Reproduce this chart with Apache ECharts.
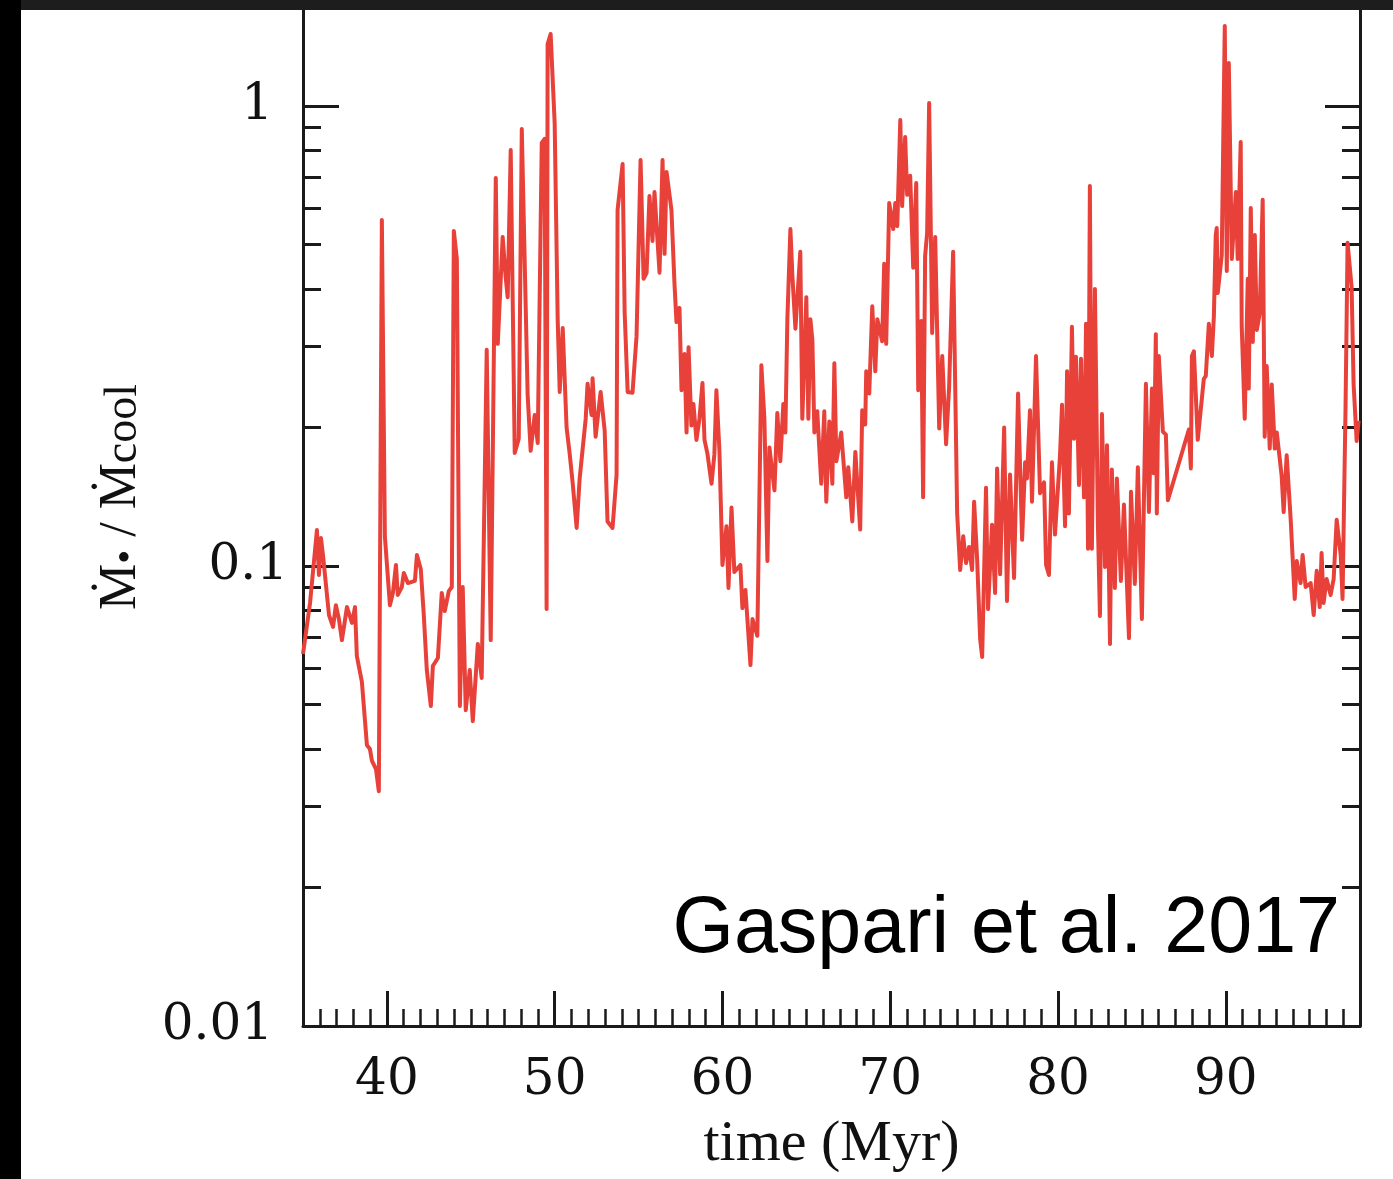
<!DOCTYPE html>
<html>
<head>
<meta charset="utf-8">
<title>Gaspari et al. 2017</title>
<script src="https://cdn.jsdelivr.net/npm/echarts@6/dist/echarts.min.js"></script>
<style>
  html, body { margin: 0; padding: 0; background: #fff; }
  #chart { width: 1393px; height: 1179px; }
</style>
</head>
<body>
<div id="chart"></div>
<script>
// time (Myr)
var times = [
  35.00,35.42,35.83,35.95,36.07,36.19,36.55,36.79,36.96,37.14,
  37.32,37.62,37.92,38.10,38.21,38.51,38.81,38.99,39.11,39.35,
  39.52,39.70,39.88,40.18,40.36,40.54,40.65,40.89,41.01,41.25,
  41.67,41.79,42.02,42.20,42.38,42.62,42.74,43.04,43.27,43.45,
  43.69,43.87,43.99,44.17,44.35,44.52,44.70,44.94,45.12,45.42,
  45.65,45.95,46.19,46.49,46.61,46.90,47.08,47.20,47.38,47.62,
  47.86,48.04,48.39,48.57,48.81,48.99,49.23,49.40,49.52,49.58,
  49.76,50.00,50.18,50.30,50.48,50.71,50.89,51.07,51.31,51.49,
  51.85,51.96,52.20,52.26,52.44,52.74,52.98,53.15,53.45,53.69,
  53.75,54.05,54.17,54.35,54.64,54.88,55.12,55.30,55.48,55.65,
  55.83,55.95,56.13,56.25,56.43,56.55,56.67,56.96,57.14,57.26,
  57.44,57.56,57.74,57.86,57.98,58.15,58.27,58.45,58.63,58.81,
  58.93,59.11,59.35,59.52,59.64,59.82,60.00,60.24,60.36,60.54,
  60.71,61.07,61.19,61.37,61.49,61.67,61.79,62.08,62.32,62.50,
  62.68,62.80,63.10,63.27,63.45,63.63,63.75,63.87,64.05,64.17,
  64.35,64.64,64.76,65.00,65.12,65.24,65.36,65.48,65.65,65.89,
  66.07,66.19,66.37,66.55,66.67,66.79,67.08,67.38,67.50,67.74,
  67.92,68.21,68.33,68.51,68.57,68.75,68.93,69.11,69.23,69.52,
  69.64,69.76,69.94,70.18,70.30,70.42,70.60,70.71,70.89,71.01,
  71.19,71.37,71.55,71.67,71.85,71.96,72.08,72.20,72.32,72.50,
  72.68,72.92,73.10,73.33,73.51,73.75,73.99,74.17,74.35,74.52,
  74.70,74.88,75.00,75.18,75.36,75.48,75.71,75.83,76.07,76.25,
  76.37,76.55,76.79,76.96,77.14,77.38,77.50,77.62,77.86,78.04,
  78.15,78.33,78.45,78.69,78.93,79.17,79.29,79.46,79.64,79.82,
  80.12,80.24,80.42,80.54,80.65,80.83,80.95,81.07,81.25,81.37,
  81.55,81.67,81.79,81.90,82.02,82.20,82.38,82.50,82.62,82.80,
  82.92,83.10,83.21,83.39,83.51,83.75,83.93,84.23,84.35,84.58,
  84.76,85.00,85.24,85.42,85.60,85.71,85.83,85.89,86.01,86.25,
  86.43,86.55,87.80,87.92,87.98,88.10,88.33,88.69,88.81,88.99,
  89.17,89.29,89.40,89.46,89.52,89.76,89.94,90.06,90.18,90.36,
  90.60,90.71,90.89,90.95,91.13,91.31,91.37,91.49,91.61,91.73,
  91.85,92.02,92.20,92.32,92.44,92.62,92.74,92.92,93.04,93.33,
  93.45,93.63,93.87,94.11,94.23,94.46,94.58,94.76,95.06,95.24,
  95.42,95.60,95.71,95.83,96.01,96.25,96.43,96.61,96.85,96.96,
  97.14,97.26,97.50,97.62,97.80,97.92
];

// Mdot_BH / Mdot_cool
var ratio = [
  0.0644,0.0831,0.1197,0.0956,0.115,0.1057,0.0782,0.0737,0.0822,0.0767,
  0.0690,0.0814,0.0752,0.0814,0.0637,0.0560,0.0408,0.0400,0.0377,0.0362,
  0.0324,0.565,0.116,0.0822,0.0874,0.1005,0.0865,0.0900,0.0966,0.0918,
  0.0928,0.1057,0.0985,0.0782,0.0594,0.0496,0.0606,0.0631,0.0874,0.0798,
  0.0882,0.0900,0.535,0.465,0.0496,0.0900,0.0486,0.0594,0.0460,0.0677,
  0.0571,0.295,0.0690,0.697,0.304,0.519,0.425,0.384,0.802,0.176,
  0.189,0.891,0.235,0.178,0.213,0.185,0.831,0.848,0.0806,1.364,
  1.434,0.918,0.343,0.239,0.329,0.200,0.176,0.152,0.121,0.155,
  0.209,0.249,0.213,0.256,0.191,0.239,0.197,0.125,0.121,0.158,
  0.594,0.748,0.357,0.239,0.238,0.316,0.763,0.421,0.434,0.637,
  0.509,0.650,0.509,0.434,0.763,0.477,0.719,0.594,0.412,0.339,
  0.364,0.241,0.289,0.195,0.299,0.202,0.225,0.188,0.209,0.250,
  0.188,0.175,0.151,0.175,0.241,0.178,0.1005,0.122,0.0896,0.134,
  0.0970,0.1005,0.0810,0.0887,0.0763,0.0609,0.0767,0.0705,0.273,0.209,
  0.1025,0.181,0.146,0.215,0.169,0.225,0.195,0.344,0.540,0.427,
  0.328,0.482,0.209,0.384,0.209,0.344,0.310,0.195,0.217,0.151,
  0.217,0.138,0.206,0.151,0.276,0.169,0.195,0.141,0.164,0.125,
  0.177,0.120,0.218,0.203,0.265,0.237,0.367,0.265,0.344,0.308,
  0.454,0.304,0.615,0.540,0.615,0.548,0.932,0.606,0.856,0.641,
  0.705,0.445,0.680,0.241,0.341,0.141,0.472,0.530,1.015,0.321,
  0.519,0.199,0.286,0.184,0.245,0.482,0.130,0.098,0.116,0.1015,
  0.110,0.098,0.138,0.1035,0.0694,0.0634,0.148,0.0806,0.123,0.0874,
  0.163,0.096,0.200,0.0839,0.158,0.0942,0.149,0.237,0.114,0.168,
  0.155,0.218,0.138,0.286,0.144,0.152,0.1005,0.0956,0.168,0.117,
  0.174,0.224,0.122,0.265,0.130,0.331,0.189,0.285,0.150,0.282,
  0.141,0.336,0.109,0.670,0.109,0.400,0.122,0.0779,0.214,0.0995,
  0.183,0.0677,0.162,0.0896,0.155,0.0928,0.136,0.0697,0.145,0.0914,
  0.164,0.0767,0.249,0.131,0.243,0.159,0.319,0.130,0.286,0.196,
  0.193,0.139,0.198,0.163,0.286,0.293,0.188,0.255,0.259,0.336,
  0.286,0.349,0.522,0.543,0.392,0.474,1.493,0.438,1.240,0.465,
  0.650,0.465,0.835,0.332,0.209,0.421,0.243,0.600,0.307,0.524,
  0.326,0.353,0.625,0.191,0.272,0.180,0.248,0.180,0.195,0.157,
  0.131,0.174,0.126,0.0848,0.1025,0.0918,0.1057,0.0900,0.0918,0.0782,
  0.0976,0.0814,0.1067,0.0831,0.0937,0.0865,0.0937,0.126,0.1057,0.0848,
  0.224,0.504,0.404,0.248,0.187,0.207
];

var xMajorTicks = [40, 50, 60, 70, 80, 90];
var xMinorTicks = [36, 37, 38, 39, 41, 42, 43, 44, 45, 46, 47, 48, 49,
  51, 52, 53, 54, 55, 56, 57, 58, 59, 61, 62, 63, 64, 65, 66, 67, 68, 69,
  71, 72, 73, 74, 75, 76, 77, 78, 79, 81, 82, 83, 84, 85, 86, 87, 88, 89,
  91, 92, 93, 94, 95, 96, 97];
var yMinorTicks = [0.02, 0.03, 0.04, 0.05, 0.06, 0.07, 0.08, 0.09,
  0.2, 0.3, 0.4, 0.5, 0.6, 0.7, 0.8, 0.9];

var X_MIN = 35, X_MAX = 98;
var Y_MIN = 0.01, Y_MAX = 1.633;

var axisColor = '#1a1a1a';
var serif = '"Liberation Serif", "Times New Roman", serif';
var tickFont = '"DejaVu Serif", serif';
var axisLineStyle = { color: axisColor, width: 3 };

var chart = echarts.init(document.getElementById('chart'));

// the minor ticks live on plain value axes laid over the log axes (log10 space)
var logMin = Math.log10(Y_MIN), logMax = Math.log10(Y_MAX);
var yMinorLog = yMinorTicks.map(function (v) { return Math.log10(v); });

var option = {
  animation: false,
  backgroundColor: '#fff',
  grid: {
    left: 303, right: 33, top: 8, bottom: 153,
    containLabel: false,
    outerBoundsMode: 'none'
  },
  xAxis: [
    {
      type: 'value', position: 'bottom', min: X_MIN, max: X_MAX,
      axisLine: { show: true, onZero: false, lineStyle: axisLineStyle },
      axisTick: { show: true, inside: true, length: 35, customValues: xMajorTicks, lineStyle: axisLineStyle },
      axisLabel: {
        show: true, customValues: xMajorTicks, margin: 30,
        color: '#111', fontFamily: tickFont, fontSize: 50
      },
      splitLine: { show: false },
      name: 'time (Myr)', nameLocation: 'middle', nameGap: 90,
      nameTextStyle: { fontFamily: serif, fontSize: 58, color: '#111' }
    },
    {
      type: 'value', position: 'bottom', min: X_MIN, max: X_MAX,
      axisLine: { show: false, onZero: false },
      axisTick: { show: true, inside: true, length: 17, customValues: xMinorTicks,
        lineStyle: { color: axisColor, width: 2.5 } },
      axisLabel: { show: false },
      splitLine: { show: false }
    }
  ],
  yAxis: [
    {
      type: 'log', logBase: 10, position: 'left', min: Y_MIN, max: Y_MAX,
      axisLine: { show: true, onZero: false, lineStyle: axisLineStyle },
      axisTick: { show: true, inside: true, length: 36, lineStyle: axisLineStyle },
      axisLabel: {
        show: true, margin: 15, showMaxLabel: false,
        formatter: function (v) {
          var s = String(+(+v).toPrecision(3));
          return s === '0.1' ? '{a|' + s + '}' : '{b|' + s + '}';
        },
        rich: {
          a: { fontFamily: tickFont, fontSize: 50, color: '#111' },
          b: { fontFamily: tickFont, fontSize: 50, color: '#111', padding: [0, 15, 0, 0] }
        }
      },
      splitLine: { show: false },
      name: '{m|Ṁ}{b|•}{m| / Ṁ}{s|cool}',
      nameLocation: 'middle', nameRotate: 90, nameGap: 156,
      nameTextStyle: {
        color: '#111', fontFamily: serif, fontSize: 52,
        padding: [0, 0, 0, 40],
        rich: {
          m: { fontFamily: serif, fontSize: 52, lineHeight: 62, verticalAlign: 'bottom', color: '#111' },
          b: { fontFamily: serif, fontSize: 40, lineHeight: 40, verticalAlign: 'bottom', color: '#111' },
          s: { fontFamily: serif, fontSize: 46, lineHeight: 44, verticalAlign: 'bottom', color: '#111' }
        }
      }
    },
    {
      type: 'log', logBase: 10, position: 'right', min: Y_MIN, max: Y_MAX,
      axisLine: { show: true, onZero: false, lineStyle: axisLineStyle },
      axisTick: { show: true, inside: true, length: 35, lineStyle: axisLineStyle },
      axisLabel: { show: false },
      splitLine: { show: false }
    },
    {
      type: 'value', position: 'left', min: logMin, max: logMax,
      axisLine: { show: false, onZero: false },
      axisTick: { show: true, inside: true, length: 18, customValues: yMinorLog, lineStyle: axisLineStyle },
      axisLabel: { show: false },
      splitLine: { show: false }
    },
    {
      type: 'value', position: 'right', min: logMin, max: logMax,
      axisLine: { show: false, onZero: false },
      axisTick: { show: true, inside: true, length: 18, customValues: yMinorLog, lineStyle: axisLineStyle },
      axisLabel: { show: false },
      splitLine: { show: false }
    }
  ],
  series: [
    {
      type: 'line',
      xAxisIndex: 0,
      yAxisIndex: 0,
      data: times.map(function (t, i) { return [t, ratio[i]]; }),
      showSymbol: false,
      symbol: 'none',
      sampling: null,
      clip: true,
      lineStyle: { color: '#e8413a', width: 4, join: 'round' },
      z: 3
    }
  ],
  graphic: [
    {
      type: 'text', x: 1340, y: 930, z: 50,
      style: {
        text: 'Gaspari et al. 2017',
        fill: '#000',
        font: '79px "Liberation Sans", Arial, sans-serif',
        align: 'right', verticalAlign: 'middle',
        textAlign: 'right', textVerticalAlign: 'middle'
      }
    },
    { type: 'rect', z: 100, shape: { x: 0, y: 0, width: 1393, height: 10 }, style: { fill: '#1d1d1d' } },
    { type: 'rect', z: 100, shape: { x: 0, y: 0, width: 21, height: 1179 }, style: { fill: '#000' } }
  ]
};

chart.setOption(option);
</script>
</body>
</html>
